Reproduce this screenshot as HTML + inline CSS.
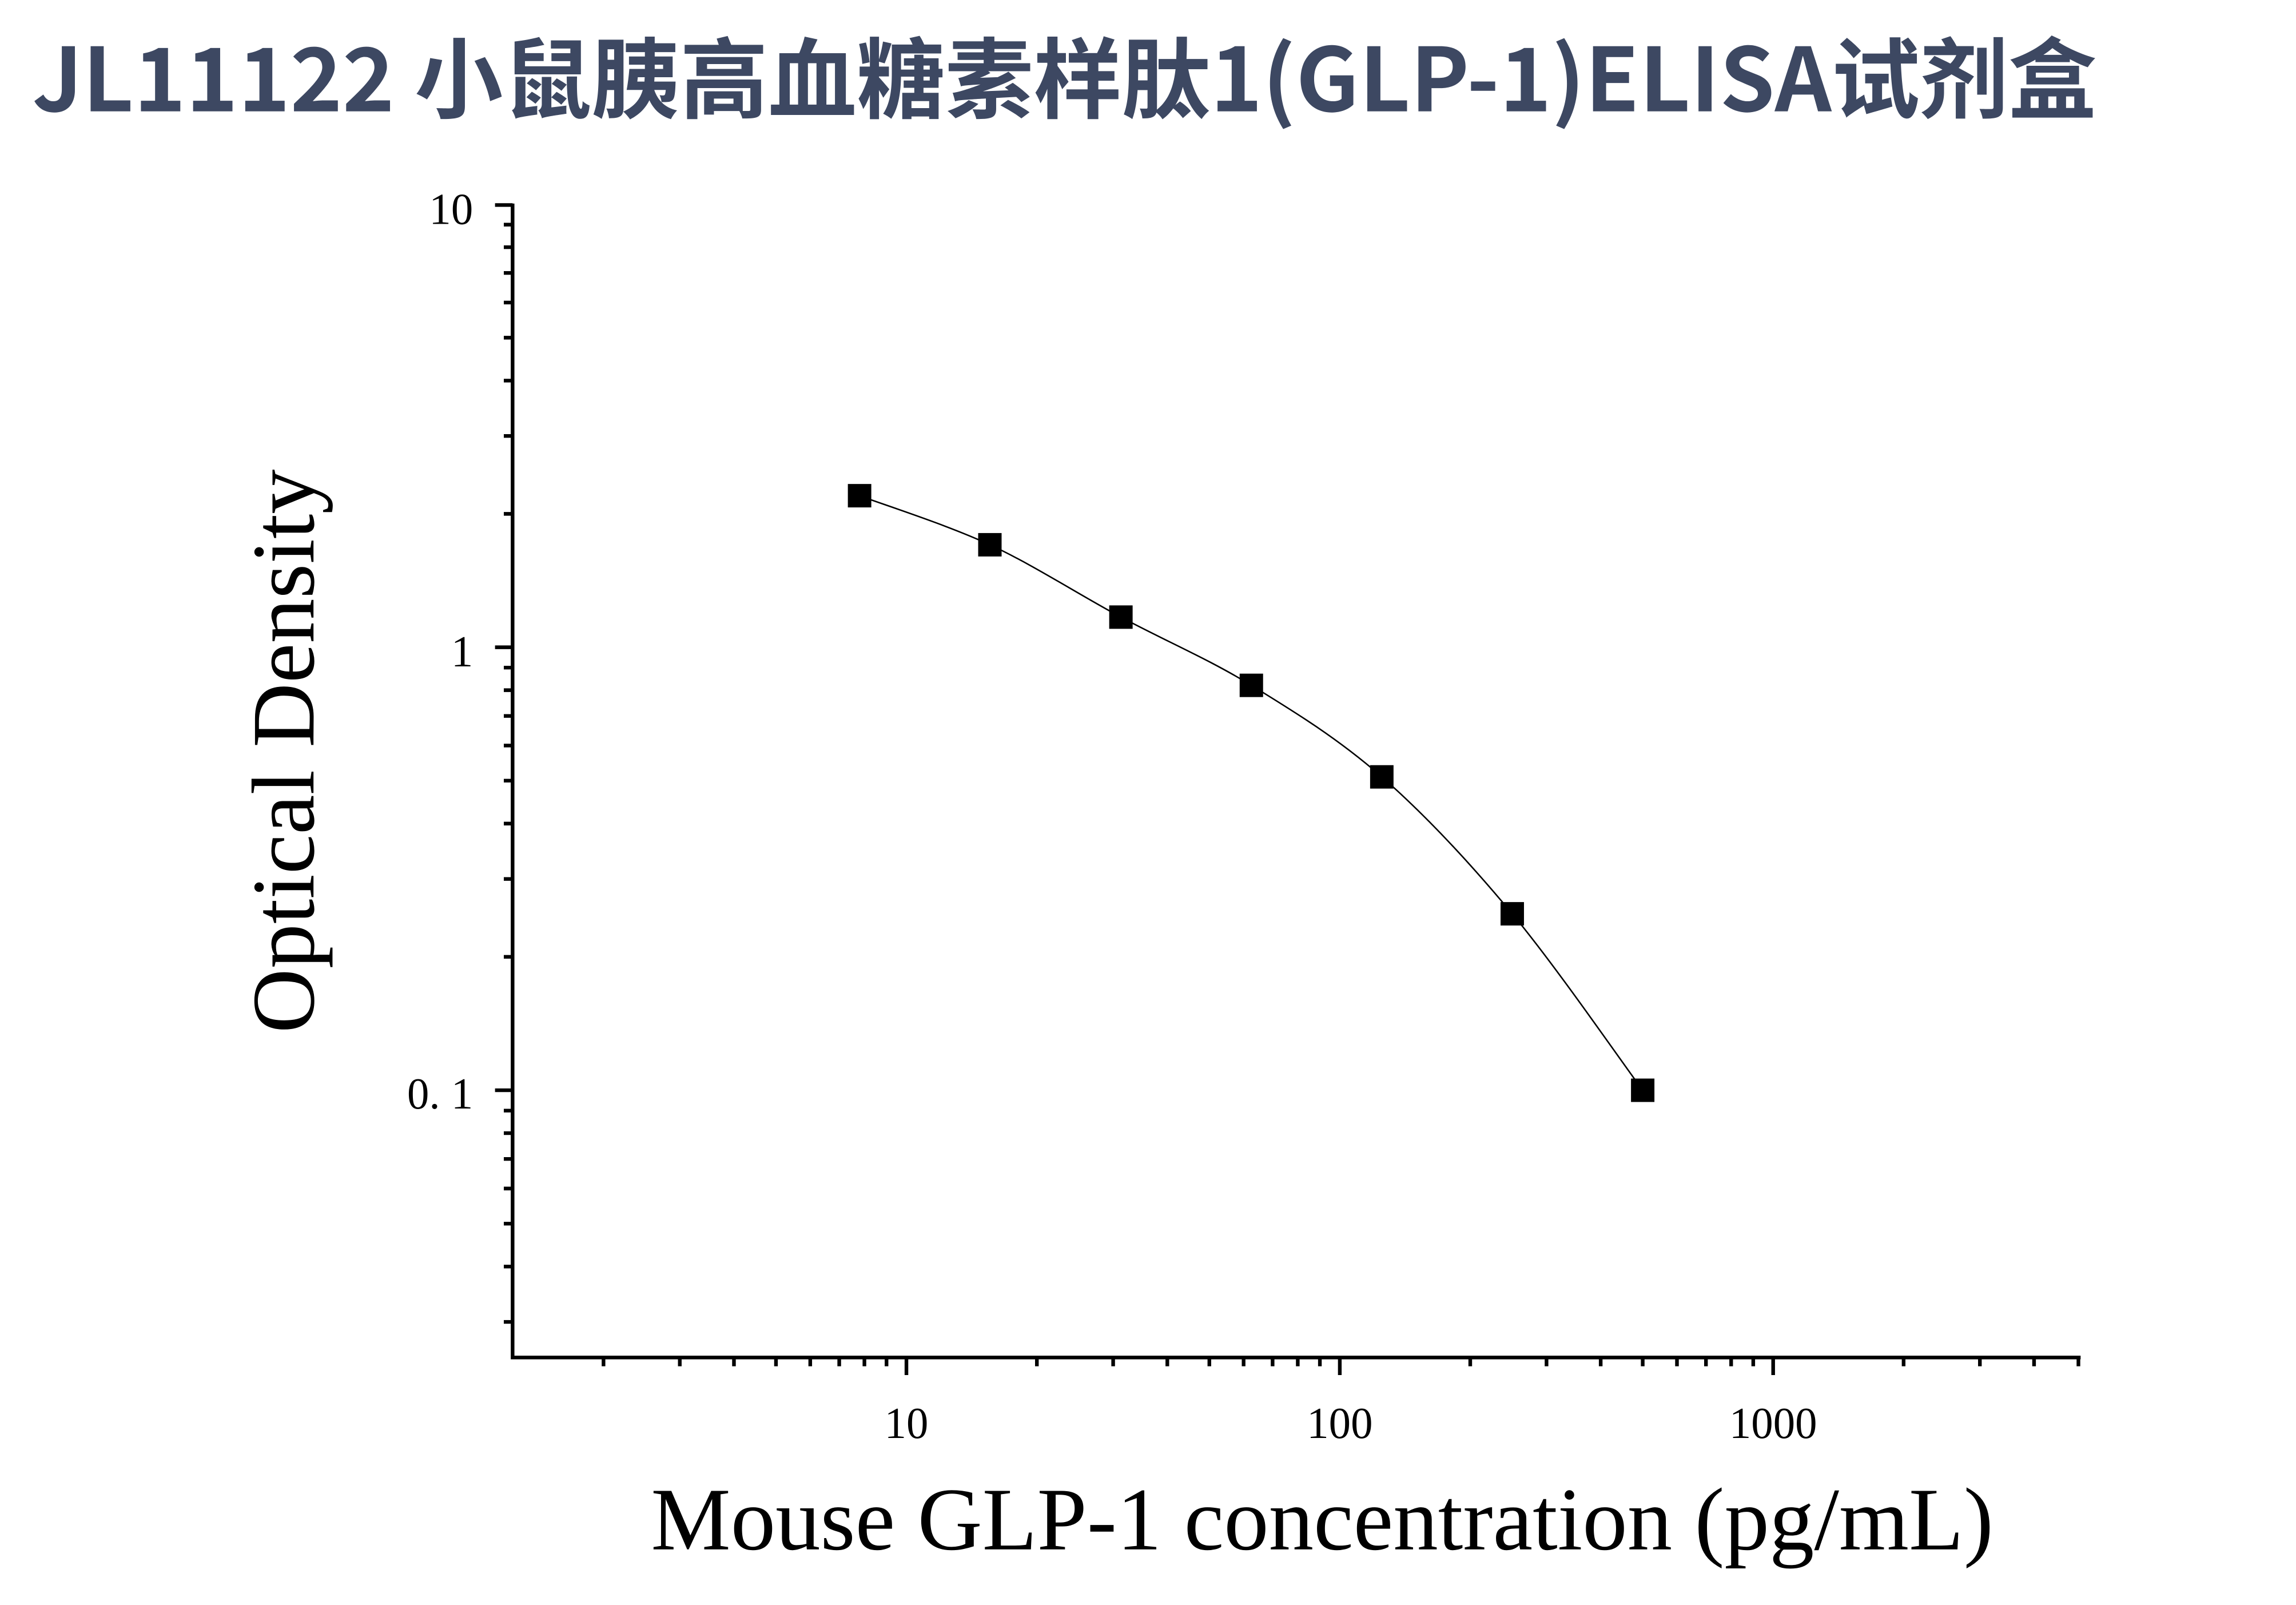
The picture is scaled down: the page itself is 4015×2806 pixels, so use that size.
<!DOCTYPE html>
<html><head><meta charset="utf-8"><style>
html,body{margin:0;padding:0;background:#fff;}
svg{display:block;}
</style></head><body>
<svg width="4015" height="2806" viewBox="0 0 1568 1096" xmlns="http://www.w3.org/2000/svg">
<rect width="1568" height="1096" fill="#fff"/>
<text x="22" y="76" font-family="'Noto Sans CJK SC',sans-serif" font-weight="bold" font-size="60" fill="#3d4862" textLength="1410" lengthAdjust="spacingAndGlyphs">JL11122 小鼠胰高血糖素样肽1(GLP-1)ELISA试剂盒</text>
<g stroke="#000" stroke-width="2.5" fill="none">
<path d="M350,139 V927 H1421"/>
<path d="M338,140H350 M338,442H350 M338,744.5H350"/>
<path d="M344,350.9H350 M344,297.7H350 M344,259.9H350 M344,230.6H350 M344,206.6H350 M344,186.4H350 M344,168.8H350 M344,153.4H350
M344,653.4H350 M344,600.2H350 M344,562.4H350 M344,533.1H350 M344,509.1H350 M344,488.9H350 M344,471.3H350 M344,455.9H350
M344,902.7H350 M344,864.9H350 M344,835.6H350 M344,811.6H350 M344,791.4H350 M344,773.8H350 M344,758.4H350"/>
<path d="M619,927V939 M915,927V939 M1211,927V939"/>
<path d="M412.1,927v6 M464.2,927v6 M501.2,927v6 M529.9,927v6 M553.3,927v6 M573.1,927v6 M590.3,927v6 M605.4,927v6
M708.1,927v6 M760.2,927v6 M797.2,927v6 M825.9,927v6 M849.3,927v6 M869.1,927v6 M886.3,927v6 M901.4,927v6
M1004.1,927v6 M1056.2,927v6 M1093.2,927v6 M1121.9,927v6 M1145.3,927v6 M1165.1,927v6 M1182.3,927v6 M1197.4,927v6
M1300.1,927v6 M1352.2,927v6 M1389.2,927v6 M1419.5,927v6"/>
</g>
<g font-family="'Liberation Serif',serif" font-size="30" fill="#000">
<text x="323" y="153" text-anchor="end">10</text>
<text x="323" y="455" text-anchor="end">1</text>
<text x="323" y="757" text-anchor="end">0. 1</text>
<text x="619" y="982" text-anchor="middle">10</text>
<text x="915" y="982" text-anchor="middle">100</text>
<text x="1211" y="982" text-anchor="middle">1000</text>
</g>
<text transform="translate(214,513) rotate(-90)" text-anchor="middle" font-family="'Liberation Serif',serif" font-size="61" fill="#000" textLength="385" lengthAdjust="spacingAndGlyphs">Optical Density</text>
<text x="903" y="1058" text-anchor="middle" font-family="'Liberation Serif',serif" font-size="61" fill="#000" textLength="917" lengthAdjust="spacingAndGlyphs">Mouse GLP-1 concentration (pg/mL)</text>
<path d="M587,338.5 C601.8,344.1 646.3,358.2 676,372 C705.75,385.8 735.7,405.4 765.5,421.4 C795.3,437.4 824.9,449.8 854.6,468 C884.3,486.2 914,504.5 943.7,530.5 C973.4,556.5 1003.1,588.3 1032.8,624 C1062.5,659.7 1107,724.4 1121.9,744.5" stroke="#000" stroke-width="1" fill="none"/>
<g fill="#000">
<rect x="579" y="330.5" width="16" height="16"/>
<rect x="668" y="364" width="16" height="16"/>
<rect x="757.5" y="413.4" width="16" height="16"/>
<rect x="846.6" y="460" width="16" height="16"/>
<rect x="935.7" y="522.5" width="16" height="16"/>
<rect x="1024.8" y="616" width="16" height="16"/>
<rect x="1113.9" y="736.5" width="16" height="16"/>
</g>
</svg>
</body></html>
